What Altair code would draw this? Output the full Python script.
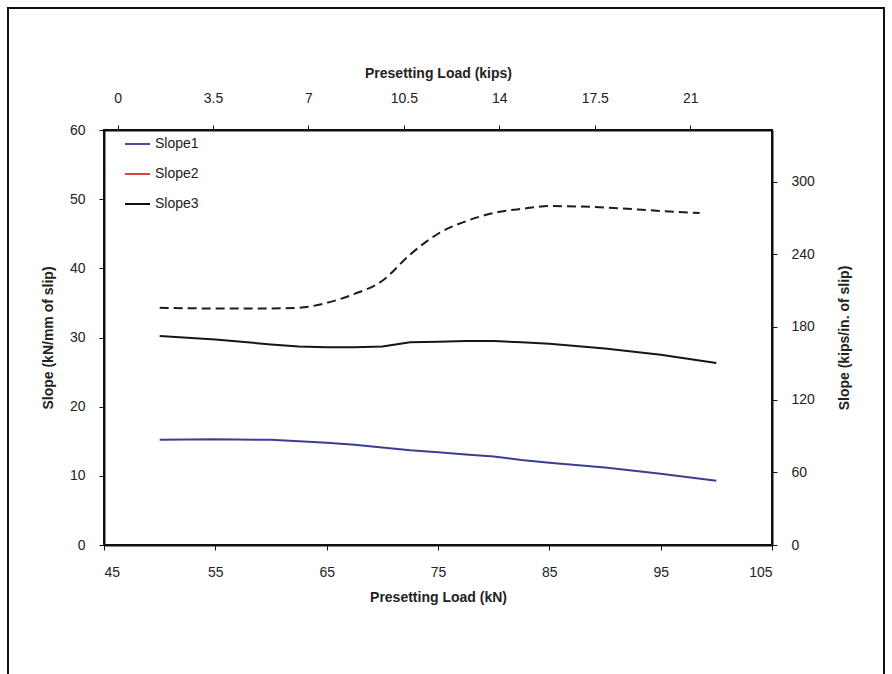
import altair as alt
import pandas as pd

# ---- data ----
load_kn = [50, 55, 60, 62.5, 65, 67.5, 70, 72.5, 75, 77.5, 80, 82.5, 85, 90, 95, 100]
slope1 = [15.2, 15.3, 15.2, 15.0, 14.8, 14.5, 14.1, 13.7, 13.4, 13.1, 12.8, 12.3, 11.9, 11.2, 10.3, 9.3]
slope3 = [30.2, 29.7, 29.0, 28.7, 28.6, 28.6, 28.7, 29.3, 29.4, 29.5, 29.5, 29.3, 29.1, 28.4, 27.5, 26.3]
load_kn_upper = [50, 55, 60, 62.5, 65, 67.5, 70, 72.5, 75, 77.5, 80, 82.5, 85, 90, 95, 98.5]
slope_upper = [34.3, 34.2, 34.2, 34.3, 35.0, 36.3, 38.2, 42.0, 45.0, 46.8, 48.0, 48.6, 49.0, 48.8, 48.3, 48.0]

x_ticks_kn = [45, 55, 65, 75, 85, 95, 105]
x_ticks_kips = [0, 3.5, 7, 10.5, 14, 17.5, 21]
y_ticks_left = [0, 10, 20, 30, 40, 50, 60]
y_ticks_right = [0, 60, 120, 180, 240, 300]

legend_labels = ["Slope1", "Slope2", "Slope3"]
legend_colors = ["#4a4a9c", "#d0453f", "#111111"]

FONT = "Liberation Sans"

rows = []
for x, v in zip(load_kn, slope1):
    rows.append({"load": x, "slope": v, "series": "Slope1"})
for x, v in zip(load_kn, slope3):
    rows.append({"load": x, "slope": v, "series": "Slope3"})
solid = pd.DataFrame(rows)
upper = pd.DataFrame({"load": load_kn_upper, "slope": slope_upper, "series": "Slope2"})

x_main = alt.X("load:Q", scale=alt.Scale(domain=[45, 105], nice=False, zero=False),
               axis=alt.Axis(orient="bottom", values=x_ticks_kn, title="Presetting Load (kN)",
                             labelPadding=15, titlePadding=11))
y_main = alt.Y("slope:Q", scale=alt.Scale(domain=[0, 60], nice=False),
               axis=alt.Axis(orient="left", values=y_ticks_left, title="Slope (kN/mm of slip)",
                             labelPadding=14, titlePadding=14))

lines = alt.Chart(solid).mark_line(strokeWidth=2).encode(
    x=x_main, y=y_main,
    color=alt.Color("series:N", scale=alt.Scale(domain=["Slope1", "Slope3"],
                                                 range=["#3d3d96", "#151515"]), legend=None),
    detail="series:N",
)
upper_line = alt.Chart(upper).mark_line(strokeWidth=2, strokeDash=[9, 5], color="#1c1c1c",
                                        interpolate="monotone").encode(
    x=alt.X("load:Q", scale=alt.Scale(domain=[45, 105], nice=False, zero=False), axis=None),
    y=alt.Y("slope:Q", scale=alt.Scale(domain=[0, 60], nice=False), axis=None),
)

top_axis = alt.Chart(pd.DataFrame({"kips": x_ticks_kips})).mark_point(opacity=0).encode(
    x=alt.X("kips:Q", scale=alt.Scale(domain=[-0.5, 24.0], nice=False, zero=False),
            axis=alt.Axis(orient="top", values=x_ticks_kips, format=".1~f",
                          title="Presetting Load (kips)",
                          labelPadding=20, titlePadding=11, labelFlush=False))
)
right_axis = alt.Chart(pd.DataFrame({"kips_in": y_ticks_right})).mark_point(opacity=0).encode(
    y=alt.Y("kips_in:Q", scale=alt.Scale(domain=[0, 342.6], nice=False),
            axis=alt.Axis(orient="right", values=y_ticks_right, title="Slope (kips/in. of slip)",
                          titleAngle=270, labelPadding=14, titlePadding=37))
)

border = alt.Chart(pd.DataFrame({"a": [0]})).mark_rect(fill=None, stroke="#111", strokeWidth=2).encode(
    x=alt.value(-96), x2=alt.value(780), y=alt.value(-122), y2=alt.value(600)
)

legend_layers = []
for i, (lab, col) in enumerate(zip(legend_labels, legend_colors)):
    ld = pd.DataFrame({"label": [lab]})
    yy = 14 + 30 * i
    legend_layers.append(
        alt.Chart(ld).mark_rule(color=col, strokeWidth=2).encode(
            x=alt.value(21), x2=alt.value(46), y=alt.value(yy)))
    legend_layers.append(
        alt.Chart(ld).mark_text(align="left", baseline="middle", font=FONT, fontSize=14,
                                color="#222").encode(
            x=alt.value(51), y=alt.value(yy), text="label:N"))

chart = alt.layer(
    lines, upper_line, top_axis, right_axis, border, *legend_layers
).resolve_scale(
    x="independent", y="independent", color="independent"
).properties(
    width=668, height=415,
    padding={"left": 104, "top": 130, "right": 120, "bottom": 129},
    autosize=alt.AutoSizeParams(type="none"),
    background="white",
).configure_view(
    stroke="#111", strokeWidth=2
).configure_axis(
    grid=False, domainColor="#111", domainWidth=2, tickColor="#111", tickSize=5,
    labelFont=FONT, labelFontSize=14, labelColor="#222",
    titleFont=FONT, titleFontSize=14, titleFontWeight="bold", titleColor="#222",
)

chart.save("out.html", embed_options={"renderer": "svg", "actions": False})
